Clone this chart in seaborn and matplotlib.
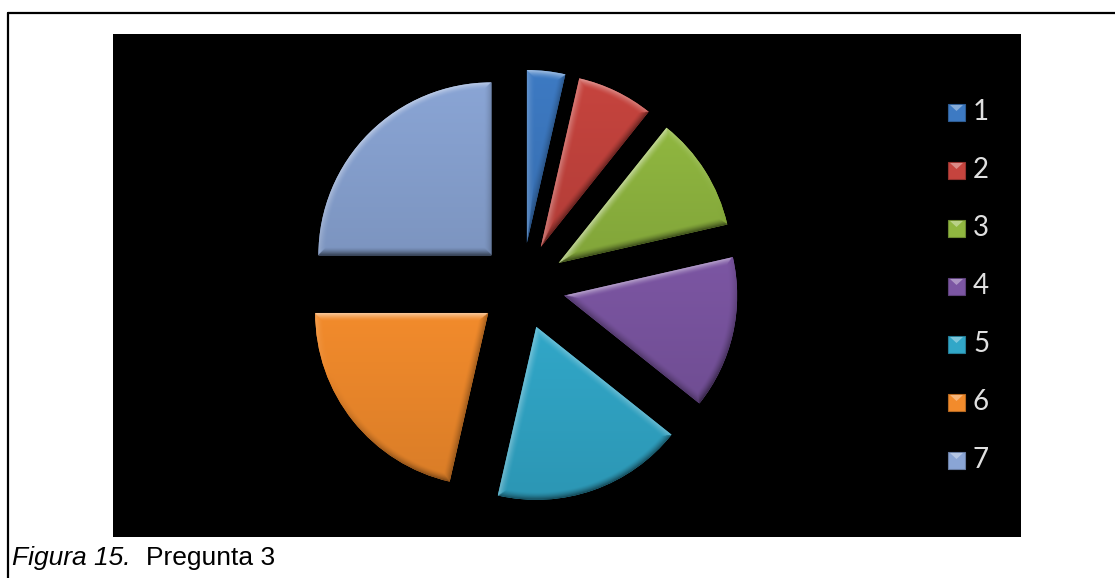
import numpy as np
import matplotlib
matplotlib.use("Agg")
import matplotlib.pyplot as plt
from matplotlib.lines import Line2D
from matplotlib.patches import Rectangle, Polygon
from matplotlib.colors import to_rgb
import seaborn as sns

# Answers to question 3, one slice per option
labels = ["1", "2", "3", "4", "5", "6", "7"]
values = [1, 2, 3, 4, 5, 6, 7]
slice_colors = ["#3d7ac3", "#c6443e", "#90b740", "#7c56a3", "#31a7c8", "#f28b2c", "#8aa5d5"]
caption_italic = "Figura 15."
caption_text = "Pregunta 3"

sns.set_style("white")
palette = sns.color_palette(slice_colors)

W, H = 1115, 578
fig = plt.figure(figsize=(W / 100, H / 100), dpi=100, facecolor="white")


def frac(x0, y0, x1, y1):
    """Pixel box (origin top-left) -> figure-fraction rect."""
    return [x0 / W, 1 - y1 / H, (x1 - x0) / W, (y1 - y0) / H]


# black chart area
bg = fig.add_axes(frac(113, 34, 1021, 537))
bg.set_facecolor("black")
bg.set_xticks([])
bg.set_yticks([])
for s in bg.spines.values():
    s.set_visible(False)

# exploded pie
cx, cy, R = 522, 286, 173
span = 1.5
half = R * span
ax = fig.add_axes(frac(cx - half, cy - half, cx + half, cy + half))
wedges, _ = ax.pie(values, colors=palette, startangle=90, counterclock=False,
                   explode=[0.25] * len(values), radius=1,
                   wedgeprops=dict(linewidth=0))
ax.set_xlim(-span, span)
ax.set_ylim(-span, span)
ax.set_aspect("equal")
ax.axis("off")

LIGHT = np.array([-0.35, 0.94])
LIGHT = LIGHT / np.linalg.norm(LIGHT)
BEVEL = 0.045  # bevel width in data units


def bevel_image(w, col, n=320):
    """Soft-bevel shading of one wedge, lit from the upper left."""
    ext = w.get_path().get_extents()
    xs = np.linspace(ext.x0, ext.x1, n)
    ys = np.linspace(ext.y0, ext.y1, n)
    X, Y = np.meshgrid(xs, ys)
    dx, dy = X - w.center[0], Y - w.center[1]
    rho = np.hypot(dx, dy)
    phi = np.arctan2(dy, dx)
    t1, t2 = np.deg2rad(w.theta1), np.deg2rad(w.theta2)
    # distances to the arc and to the two straight edges
    d_arc = w.r - rho
    d_e1 = rho * np.sin(phi - t1)
    d_e2 = rho * np.sin(t2 - phi)
    n_arc = np.stack([np.cos(phi), np.sin(phi)], -1)
    n_e1 = np.broadcast_to(np.array([np.cos(t1 - np.pi / 2), np.sin(t1 - np.pi / 2)]), n_arc.shape)
    n_e2 = np.broadcast_to(np.array([np.cos(t2 + np.pi / 2), np.sin(t2 + np.pi / 2)]), n_arc.shape)
    D = np.stack([d_arc, np.abs(d_e1), np.abs(d_e2)], 0)
    idx = np.argmin(D, 0)
    d = np.take_along_axis(D, idx[None], 0)[0]
    N = np.where(idx[..., None] == 0, n_arc, np.where(idx[..., None] == 1, n_e1, n_e2))
    lit = N @ LIGHT
    k = np.clip(1 - d / BEVEL, 0, 1) ** 1.5
    inten = lit * k
    base = np.array(to_rgb(col))
    # mild vertical gradient across the slice
    tv = (Y - ext.y0) / max(ext.y1 - ext.y0, 1e-9)
    body = base[None, None, :] * (0.9 + 0.1 * tv[..., None])
    up = np.clip(inten, 0, None)[..., None]
    dn = np.clip(-inten, 0, None)[..., None]
    rgb = body + (1 - body) * up * 0.55
    rgb = rgb * (1 - dn * 0.55)
    return np.clip(rgb, 0, 1), (ext.x0, ext.x1, ext.y0, ext.y1)


for w, col in zip(wedges, palette):
    img, extent = bevel_image(w, col)
    im = ax.imshow(img, origin="lower", aspect="auto", extent=extent,
                   interpolation="bilinear", zorder=2)
    im.set_clip_path(w)
ax.set_xlim(-span, span)
ax.set_ylim(-span, span)

# legend
for i, (lab, col) in enumerate(zip(labels, palette)):
    yc = 112 + 58 * i
    c = np.array(to_rgb(col))
    sq = Rectangle((948 / W, 1 - (yc + 8.5) / H), 17 / W, 17 / H,
                   transform=fig.transFigure, facecolor=col,
                   edgecolor=tuple(c * 0.75), linewidth=0.8)
    fig.add_artist(sq)
    tri = Polygon([(950 / W, 1 - (yc - 7) / H), (963 / W, 1 - (yc - 7) / H),
                   (956.5 / W, 1 - (yc - 1) / H)], closed=True,
                  transform=fig.transFigure,
                  facecolor=tuple(np.clip(c + (1 - c) * 0.5, 0, 1)),
                  edgecolor="none", alpha=0.75)
    fig.add_artist(tri)
    fig.text(973 / W, 1 - yc / H, lab, color="#e0e0e0", fontsize=20,
             family=["Lato", "DejaVu Sans"], va="center", ha="left")

# caption
fig.text(12 / W, 1 - 565 / H, caption_italic, style="italic", fontsize=19,
         color="black", family=["Liberation Sans", "DejaVu Sans"],
         va="baseline", ha="left")
fig.text(146 / W, 1 - 565 / H, caption_text, fontsize=19, color="black",
         family=["Liberation Sans", "DejaVu Sans"], va="baseline", ha="left")

# page frame
fig.add_artist(Line2D([8 / W, 8 / W], [0, 1 - 13 / H], color="black", lw=1.6,
                      transform=fig.transFigure))
fig.add_artist(Line2D([8 / W, 1], [1 - 13 / H, 1 - 13 / H], color="black", lw=1.6,
                      transform=fig.transFigure))

fig.savefig("out.png", dpi=100, facecolor="white")
